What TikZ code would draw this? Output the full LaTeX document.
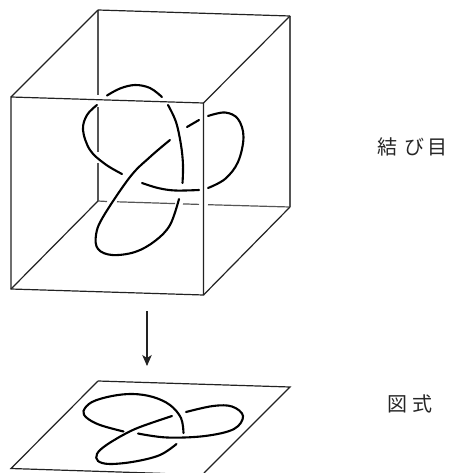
\documentclass[tikz,border=0pt]{standalone}
\usepackage{fontspec}
\newfontfamily\cjk{Noto Sans CJK JP}
\usetikzlibrary{arrows.meta,positioning}
\definecolor{edgegray}{HTML}{222222}
\definecolor{backgray}{HTML}{555555}
\tikzset{edge/.style={draw=edgegray,line width=1.2pt},backedge/.style={draw=backgray,line width=1.2pt},strand/.style={draw=black,line width=2.1pt,line cap=round,smooth,tension=.6},arr/.style={-{Stealth[length=11pt,width=9.5pt,inset=3pt]},draw=edgegray,line width=1.1pt},lab/.style={font=\cjk\fontsize{20}{24}\selectfont,text=black!85,inner sep=0pt}}
\begin{document}
\begin{tikzpicture}[x=1pt,y=-1pt]
\clip (0,0) rectangle (449,473);
\fill[white] (0,0) rectangle (449,473);
% back edges of the box, broken where the knot passes
\draw[backedge] (98,10)--(98,95) (98,107)--(98,152) (98,163)--(98,201);
\draw[backedge] (98,201)--(107,201.5) (117,201.8)--(175,203.6) (183,203.9)--(199,204.4) (208,204.7)--(290,207);
\draw[backedge] (290,16)--(290,207);
% box
\coordinate (fa) at (11,97);
\coordinate (fb) at (203.5,103);
\coordinate (fc) at (203.5,295);
\coordinate (fd) at (11,289);
\coordinate (ba) at (98,10);
\coordinate (bb) at (290,16);
\coordinate (bc) at (290,207);
\coordinate (bd) at (98,201);
\draw[edge] (fa)--(fb)--(fc)--(fd)--cycle;
\draw[edge] (ba)--(bb);
\foreach \p/\q in {fa/ba,fb/bb,fc/bc,fd/bd}{\draw[edge] (\p)--(\q);}
% knot in the box
\draw[strand] plot coordinates {(107,95.5) (120,88.5) (135,85) (150,88) (162,97)};
\draw[strand] plot coordinates {(168,105) (176,122) (181,145) (183,165) (182.5,183)};
\draw[strand] plot coordinates {(179,199) (170,225) (155,241) (135,252) (112,255) (98,249) (96,235) (103,217) (130,177) (150,157) (170,140)};
\draw[strand] (187,127)--(199,120);
\draw[strand] plot coordinates {(208,116) (225,112.5) (238,119) (243.5,137) (238,162) (225,179) (208,188)};
\draw[strand] plot coordinates {(199,190) (175,190.5) (158,188) (142,183)};
\draw[strand] plot coordinates {(122,174) (105,164) (90,150) (83,130) (87,115) (97,105)};
% projection arrow
\coordinate (up) at (147,311);
\coordinate (dn) at (147,366);
\draw[arr] (up)--(dn);
% plane
\draw[edge] (98,381)--(290,387)--(204,473) (98,381)--(11,468.5)--(165,473.5);
% knot on the plane
\draw[strand] plot coordinates {(123.5,431.5) (100,425) (87,418) (83.5,411) (92,402) (112,396) (133,394) (153,397) (170,405) (181,418) (183.5,433)};
\draw[strand] plot coordinates {(176.5,444) (160,455) (135,461.5) (110,464) (98,461) (97,454) (105,446) (123,435) (140,427) (172,416)};
\draw[strand] plot coordinates {(186,412) (213,406) (232,406.5) (243,416) (234,429) (205,436) (167,437.5) (138,433.5)};
% labels
\node[lab,anchor=west] (knotlab) at (377,147) {結\kern7ptび\kern3pt目};
\node[lab,anchor=west] (planelab) at (387,404) {図\kern5pt式};
\end{tikzpicture}
\end{document}
